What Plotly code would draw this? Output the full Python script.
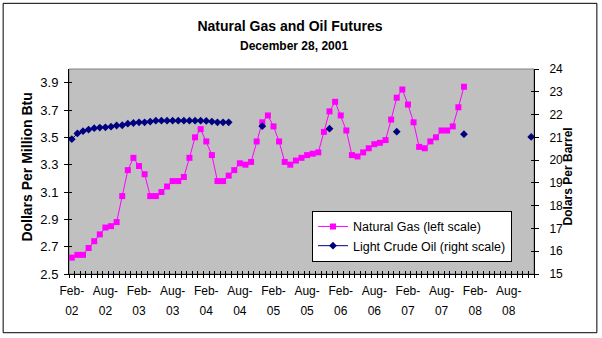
import pandas as pd
import plotly.graph_objects as go

# Contract months on the category axis (Feb-02 ... Dec-08)
months = [p.strftime("%b-%y") for p in pd.period_range("2002-02", "2008-12", freq="M")]

# NYMEX natural gas futures, $/MMBtu, Feb-02 .. Dec-07
gas_price = [
    2.62, 2.64, 2.64, 2.69, 2.74, 2.79, 2.84, 2.85, 2.88, 3.07, 3.26, 3.35,
    3.29, 3.23, 3.07, 3.07, 3.10, 3.14, 3.18, 3.18, 3.21, 3.35, 3.50, 3.56,
    3.47, 3.37, 3.18, 3.18, 3.22, 3.26, 3.31, 3.30, 3.32, 3.47, 3.61, 3.66,
    3.58, 3.47, 3.32, 3.30, 3.33, 3.35, 3.37, 3.38, 3.39, 3.54, 3.69, 3.76,
    3.66, 3.55, 3.37, 3.36, 3.39, 3.42, 3.45, 3.46, 3.48, 3.63, 3.79, 3.85,
    3.74, 3.61, 3.43, 3.42, 3.47, 3.50, 3.55, 3.55, 3.58, 3.72, 3.87,
]

# Light crude oil futures, $/bbl: consecutive months Feb-02 .. Jun-04
oil_monthly = [
    20.92, 21.17, 21.27, 21.34, 21.40, 21.43, 21.44, 21.47, 21.52, 21.53,
    21.60, 21.63, 21.66, 21.66, 21.69, 21.73, 21.73, 21.73, 21.73, 21.73,
    21.73, 21.73, 21.73, 21.73, 21.72, 21.69, 21.66, 21.66, 21.66,
]
# ... plus the long-dated December contracts
oil_december = {"Dec-04": 21.49, "Dec-05": 21.38, "Dec-06": 21.25,
                "Dec-07": 21.14, "Dec-08": 21.02}

gas_ticks = [2.5, 2.7, 2.9, 3.1, 3.3, 3.5, 3.7, 3.9]
oil_ticks = [15, 16, 17, 18, 19, 20, 21, 22, 23, 24]
label_months = months[::6]

# ---------------------------------------------------------------------------
n = len(months)
pos = {m: i for i, m in enumerate(months)}

gas_x = [pos[m] for m in months[:len(gas_price)]]
oil_y = [None] * n
for m, v in zip(months, oil_monthly):
    oil_y[pos[m]] = v
for m, v in oil_december.items():
    oil_y[pos[m]] = v

W, H = 602, 338
ML, MR, MT, MB = 68.5, 67.5, 68.5, 63.5
PW, PH = W - ML - MR, H - MT - MB


def px_x(x):
    return (x - ML) / PW


def px_y(y):
    return (H - MB - y) / PH


FONT = "Liberation Sans, Arial, sans-serif"
xr = [-0.5, n - 0.5]
bounds = [i - 0.5 for i in range(n + 1)]
label_pos = [pos[m] for m in label_months]

fig = go.Figure()
fig.add_trace(go.Scatter(
    x=gas_x, y=gas_price, name="Natural Gas (left scale)",
    mode="lines+markers", legendgroup="g",
    line=dict(color="#FF00FF", width=1),
    marker=dict(symbol="square", size=6, color="#FF00FF", line=dict(width=0)),
))
fig.add_trace(go.Scatter(
    x=list(range(n)), y=oil_y, name="Light Crude Oil (right scale)",
    mode="lines+markers", yaxis="y2", connectgaps=False, legendgroup="o",
    line=dict(color="#000080", width=1),
    marker=dict(symbol="diamond", size=6, color="#000080", line=dict(width=0)),
))

# empty traces so the tick-only overlay axes get drawn
for xa, ya in [("x2", "y"), ("x3", "y"), ("x4", "y"), ("x", "y3"), ("x", "y4")]:
    fig.add_trace(go.Scatter(x=[None], y=[None], xaxis=xa, yaxis=ya, mode="markers",
                             showlegend=False, hoverinfo="skip"))

base_x = dict(range=xr, showgrid=False, zeroline=False, fixedrange=True)
fig.update_layout(
    width=W, height=H,
    margin=dict(l=ML, r=MR, t=MT, b=MB, pad=0),
    paper_bgcolor="white", plot_bgcolor="#C0C0C0",
    font=dict(family=FONT, color="black", size=12),
    title=dict(text="<b>Natural Gas and Oil Futures</b>", x=290 / W, xref="container",
               xanchor="center", y=1 - 26 / H, yref="container", yanchor="middle",
               font=dict(size=14, family=FONT)),
    showlegend=True,
    legend=dict(x=px_x(312), y=px_y(211), xanchor="left", yanchor="top",
                bgcolor="white", bordercolor="black", borderwidth=1,
                font=dict(size=12.5, family=FONT), traceorder="grouped",
                tracegroupgap=0),
    xaxis=dict(**base_x, tickvals=bounds, ticks="outside", ticklen=3, tickcolor="black",
               showticklabels=False, showline=True, linecolor="black", linewidth=1),
    xaxis2=dict(**base_x, overlaying="x", anchor="y", tickvals=bounds, ticks="inside",
                ticklen=3, tickcolor="black", showticklabels=False, showline=False),
    xaxis3=dict(**base_x, overlaying="x", anchor="y", side="bottom", tickvals=label_pos,
                ticktext=[m[:4] for m in label_months], ticks="", showline=False,
                tickfont=dict(size=12), ticklabelstandoff=8),
    xaxis4=dict(**base_x, overlaying="x", anchor="y", side="bottom", tickvals=label_pos,
                ticktext=[m[4:] for m in label_months], ticks="", showline=False,
                tickfont=dict(size=12), ticklabelstandoff=28),
    yaxis=dict(range=[2.5, 4.0], tickvals=gas_ticks, ticktext=[f"{v:.1f}" for v in gas_ticks],
               ticks="outside", ticklen=4, tickcolor="black", showline=True,
               linecolor="black", linewidth=1, showgrid=False, zeroline=False,
               tickfont=dict(size=13), ticklabelstandoff=3),
    yaxis3=dict(range=[2.5, 4.0], tickvals=gas_ticks, overlaying="y", side="left",
                anchor="x", ticks="inside", ticklen=3, tickcolor="black",
                showticklabels=False, showline=False, showgrid=False, zeroline=False),
    yaxis2=dict(range=[15, 24], tickvals=oil_ticks, overlaying="y", side="right",
                anchor="x", ticks="outside", ticklen=4, tickcolor="black",
                showline=True, linecolor="black", linewidth=1, showgrid=False,
                zeroline=False, tickfont=dict(size=12), ticklabelstandoff=8),
    yaxis4=dict(range=[15, 24], tickvals=oil_ticks, overlaying="y", side="right",
                anchor="x", ticks="inside", ticklen=3, tickcolor="black",
                showticklabels=False, showline=False, showgrid=False, zeroline=False),
)

# subtitle and the two axis titles
fig.add_annotation(text="<b>December 28, 2001</b>", x=px_x(294), y=px_y(45),
                   xref="paper", yref="paper", xanchor="center", yanchor="middle",
                   showarrow=False, font=dict(size=12, family=FONT))
fig.add_annotation(text="<b>Dollars Per Million Btu</b>", x=px_x(26), y=px_y(167),
                   xref="paper", yref="paper", xanchor="center", yanchor="middle",
                   textangle=-90, showarrow=False, font=dict(size=14, family=FONT))
fig.add_annotation(text="<b>Dolars Per Barrel</b>", x=px_x(569), y=px_y(176),
                   xref="paper", yref="paper", xanchor="center", yanchor="middle",
                   textangle=-90, showarrow=False, font=dict(size=12, family=FONT))

# plot-area frame and the outer chart border
fig.add_shape(type="rect", xref="paper", yref="paper", x0=0, x1=1, y0=0, y1=1,
              line=dict(color="#808080", width=1), layer="below")
fig.add_shape(type="rect", xref="paper", yref="paper",
              x0=px_x(2.5), x1=px_x(597.5), y0=px_y(333.5), y1=px_y(2.5),
              line=dict(color="black", width=1), fillcolor="rgba(0,0,0,0)")

fig.write_html("out.html")
